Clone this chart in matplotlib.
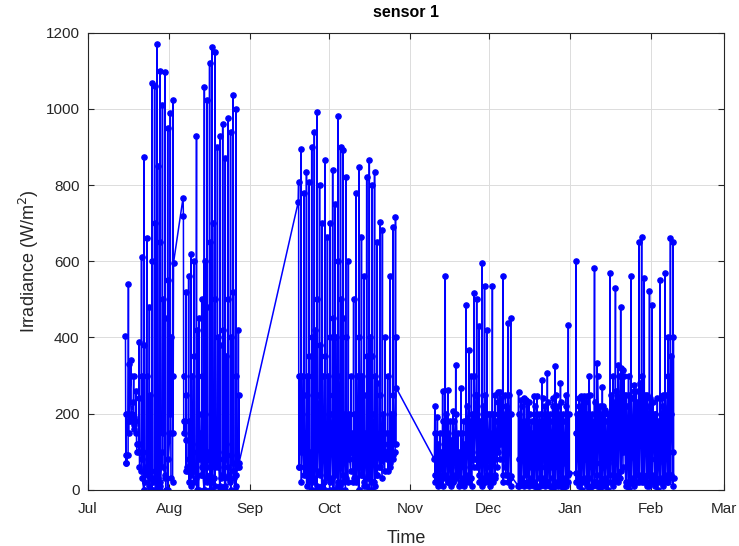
import numpy as np
import pandas as pd
import matplotlib
matplotlib.use("Agg")
import matplotlib.pyplot as plt
import matplotlib.dates as mdates

plt.rcParams['font.family'] = ['Liberation Sans', 'DejaVu Sans']

# logged days (gaps between segments have no data)
segments = [("2017-07-15", "2017-08-02"), ("2017-08-06", "2017-08-27"),
            ("2017-09-19", "2017-10-26"), ("2017-11-10", "2017-12-09"),
            ("2017-12-12", "2017-12-31"), ("2018-01-03", "2018-02-09")]

# readings taken at these hours each day
hours = [8, 11, 12.5, 14, 16.5]

# irradiance (W/m^2) per day, one array per reading time
am = [405, 90, 300, 230, 180, 100, 50, 0, 60, 10, 0, 30, 50, 0, 100, 40, 0, 150, 20,
      767, 130, 50, 10, 20, 30, 0, 40, 0, 20, 60, 0, 30, 80, 10, 40, 0, 60, 20, 70, 0, 60,
      756, 100, 60, 40, 20, 0, 30, 10, 50, 0, 20, 40, 0, 30, 0, 20, 10, 40, 0, 20, 50, 20,
      30, 0, 40, 20, 10, 30, 0, 20, 40, 60, 30, 50, 80, 70, 80, 100,
      80, 30, 20, 30, 40, 20, 30, 20, 30, 40, 20, 30, 20, 40, 30, 60, 80, 40, 30, 20, 40,
      20, 30, 40, 60, 80, 40, 60, 40, 30,
      10, 30, 20, 40, 20, 30, 20, 10, 30, 20, 30, 20, 10, 30, 20, 10, 30, 20, 30, 40,
      44, 30, 20, 30, 20, 30, 10, 20, 40, 20, 10, 30, 20, 40, 20, 30, 40, 30, 60, 20, 10,
      20, 30, 40, 20, 30, 20, 40, 10, 20, 40, 20, 30, 20, 40, 20, 30, 100]
noon = [70, 541, 340, 300, 260, 389, 612, 874, 662, 480, 1068, 1060, 1171, 1100, 1010,
        1098, 950, 990, 1024,
        720, 520, 560, 620, 600, 930, 450, 500, 1058, 1024, 1120, 1163, 1150, 900, 930,
        960, 870, 977, 940, 1037, 1000, 420,
        809, 895, 780, 835, 809, 900, 940, 993, 800, 700, 866, 665, 700, 840, 750, 982,
        900, 893, 820, 600, 300, 500, 780, 848, 665, 560, 820, 866, 800, 835, 650, 703,
        683, 400, 300, 560, 690, 717,
        219, 190, 150, 260, 560, 262, 180, 206, 328, 150, 268, 180, 486, 368, 300, 517,
        500, 430, 596, 534, 420, 200, 534, 250, 258, 258, 560, 250, 438, 452,
        258, 236, 240, 236, 230, 180, 245, 245, 200, 289, 220, 307, 200, 240, 324, 220,
        280, 200, 250, 433,
        600, 240, 245, 245, 245, 300, 200, 583, 333, 220, 271, 210, 200, 569, 300, 530,
        328, 481, 315, 250, 300, 560, 276, 260, 650, 663, 556, 250, 521, 486, 200, 240,
        551, 250, 569, 400, 661, 650]
dip = [200, 150, 180, 190, 150, 120, 80, 0, 100, 30, 0, 50, 0, 20, 150, 30, 0, 200, 150,
       300, 50, 20, 40, 60, 0, 80, 40, 0, 30, 0, 20, 10, 60, 0, 40, 10, 30, 0, 50, 10, 60,
       60, 20, 40, 10, 30, 0, 20, 0, 40, 10, 0, 30, 20, 0, 40, 10, 0, 20, 30, 80,
       100, 30, 20, 0, 40, 10, 30, 0, 20, 10, 40, 60, 90, 100, 50, 60, 90, 120,
       20, 10, 20, 10, 30, 20, 10, 20, 30, 10, 20, 10, 30, 20, 10, 80, 60, 20, 10, 20,
       30, 10, 20, 30, 100, 120, 20, 40, 20, 10,
       10, 20, 10, 20, 10, 20, 10, 0, 10, 20, 10, 20, 10, 0, 10, 20, 10, 0, 10, 20,
       20, 10, 0, 20, 10, 0, 10, 20, 10, 0, 20, 10, 0, 20, 10, 30, 20, 50, 100, 10,
       0, 20, 10, 20, 40, 20, 30, 10, 20, 30, 10, 0, 20, 10, 30, 20, 40, 10]
pm = [90, 330, 200, 160, 120, 240, 300, 380, 300, 250, 600, 700, 850, 650, 500, 450,
      550, 400, 300,
      150, 250, 180, 300, 350, 420, 200, 300, 600, 480, 650, 700, 500, 400, 380, 420, 350,
      500, 400, 520, 300, 250,
      60, 300, 250, 300, 350, 400, 420, 500, 380, 300, 350, 300, 400, 450, 400, 600, 500,
      450, 400, 200, 120, 200, 300, 400, 300, 250, 350, 400, 350, 300, 280, 250, 200, 150,
      120, 200, 250, 400,
      40, 60, 40, 100, 150, 80, 60, 40, 80, 60, 70, 60, 120, 90, 100, 300, 250, 150, 120,
      100, 110, 60, 120, 80, 200, 220, 150, 120, 100, 200,
      80, 100, 90, 80, 60, 70, 80, 60, 70, 80, 60, 90, 60, 70, 80, 60, 90, 70, 80, 200,
      150, 80, 90, 80, 100, 90, 60, 150, 120, 70, 60, 80, 70, 160, 100, 120, 150, 200, 250,
      100, 80, 120, 100, 120, 200, 150, 180, 100, 120, 150, 80, 70, 100, 90, 120, 150, 200,
      400]
eve = [70, 180, 200, 170, 100, 60, 30, 20, 40, 0, 20, 0, 30, 10, 60, 0, 80, 30, 596,
       180, 60, 80, 120, 50, 100, 150, 60, 200, 100, 40, 150, 60, 100, 30, 80, 120, 40, 90,
       30, 40, 70,
       300, 200, 150, 250, 100, 300, 200, 250, 150, 200, 100, 150, 200, 250, 100, 300,
       150, 200, 120, 100, 150, 100, 200, 300, 100, 150, 250, 100, 200, 150, 120, 150, 80,
       100, 150, 120, 200, 268,
       150, 120, 100, 180, 200, 150, 130, 180, 200, 100, 150, 120, 220, 180, 200, 250, 200,
       180, 220, 250, 200, 150, 200, 180, 230, 240, 200, 220, 250, 35,
       200, 220, 180, 230, 200, 150, 220, 200, 180, 240, 200, 230, 180, 220, 250, 200, 230,
       180, 220, 44,
       200, 220, 240, 230, 200, 250, 180, 230, 300, 200, 220, 180, 200, 250, 230, 260, 300,
       320, 300, 220, 250, 240, 260, 230, 280, 300, 250, 220, 240, 230, 200, 180, 240, 220,
       250, 300, 350, 30]

days = pd.DatetimeIndex(np.concatenate([pd.date_range(a, b).values for a, b in segments]))
t = np.array([d + pd.Timedelta(hours=h) for d in days for h in hours])
v = np.column_stack([am, noon, dip, pm, eve]).ravel()

fig = plt.figure(figsize=(7.39, 5.46), dpi=100)
ax = fig.add_axes([0.119, 0.103, 0.861, 0.837])

ax.plot(t, v, '.-', color='b', lw=1.1, ms=7.5)

ax.set_xlim(pd.Timestamp("2017-07-01"), pd.Timestamp("2018-03-01"))
ax.set_ylim(0, 1200)
ax.set_yticks(range(0, 1201, 200))
ax.xaxis.set_major_locator(mdates.MonthLocator())
ax.xaxis.set_major_formatter(mdates.DateFormatter('%b'))

txt = '#262626'
ax.grid(True, color='#dcdcdc', lw=0.7)
ax.set_axisbelow(True)
ax.tick_params(direction='in', top=True, right=True, length=4, labelsize=11,
               colors=txt)
ax.tick_params(axis='x', pad=9)
ax.tick_params(axis='y', pad=6)
for s in ax.spines.values():
    s.set_color(txt)
    s.set_linewidth(0.8)

ax.set_title('sensor 1', fontsize=11.5, fontweight='bold', color='black', pad=11)
ax.set_xlabel('Time', fontsize=13, color=txt, labelpad=10)
ax.set_ylabel('Irradiance (W/m$^2$)', fontsize=13, color=txt, labelpad=3)

fig.savefig('out.png', dpi=100)
